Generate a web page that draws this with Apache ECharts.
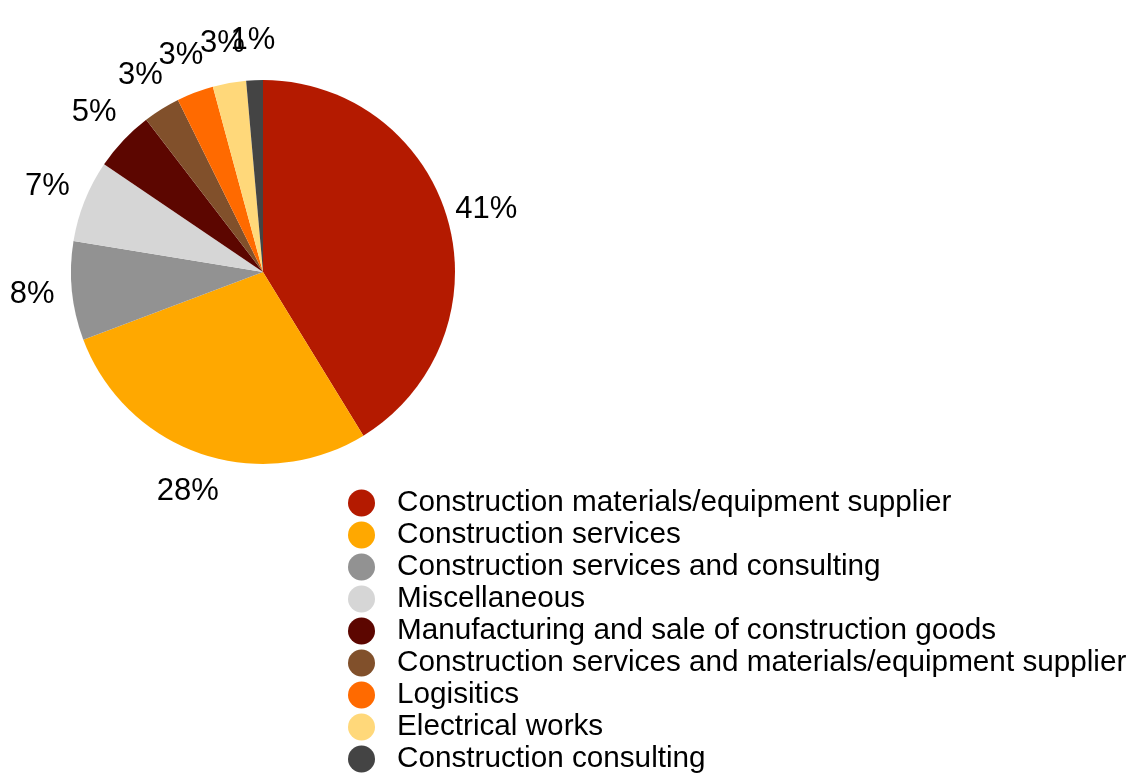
<!DOCTYPE html>
<html>
<head>
<meta charset="utf-8">
<script src="https://cdn.jsdelivr.net/npm/echarts@6/dist/echarts.min.js"></script>
<style>
  html, body { margin: 0; padding: 0; background: #fff; }
  #chart { width: 1131px; height: 773px; }
</style>
</head>
<body>
<div id="chart"></div>
<script>
const categories = [
  'Construction materials/equipment supplier',
  'Construction services',
  'Construction services and consulting',
  'Miscellaneous',
  'Manufacturing and sale of construction goods',
  'Construction services and materials/equipment supplier',
  'Logisitics',
  'Electrical works',
  'Construction consulting'
]
const shares = [41.2, 28.0, 8.3, 6.9, 5.1, 3.1, 3.1, 2.8, 1.4]
const colors = [
  '#B41A00',
  '#FFA800',
  '#929292',
  '#D6D6D6',
  '#5C0600',
  '#81502B',
  '#FF6A00',
  '#FFD87A',
  '#444444'
]

const chart = echarts.init(document.getElementById('chart'))
const font = "'Liberation Sans', Arial, Helvetica, sans-serif"

const sliceData = categories.map((name, i) => {
  return { name: name, value: shares[i], itemStyle: { color: colors[i] } }
})
// same slices, invisible, only used to place the % labels a bit outside the pie
const labelData = categories.map((name, i) => {
  return { name: name, value: shares[i], itemStyle: { color: 'rgba(0,0,0,0)' } }
})

const option = {
  animation: false,
  backgroundColor: '#fff',
  color: colors,
  legend: {
    orient: 'vertical',
    left: 343,
    top: 483,
    height: 400,
    icon: 'circle',
    itemWidth: 27,
    itemHeight: 27,
    itemGap: 2,
    selectedMode: false,
    data: categories,
    textStyle: {
      fontFamily: font,
      fontSize: 29.7,
      lineHeight: 30,
      color: '#000',
      padding: [0, 0, 0, 17]
    }
  },
  series: [
    {
      name: 'share',
      type: 'pie',
      center: [263, 272],
      radius: [0, 192],
      startAngle: 90,
      clockwise: true,
      avoidLabelOverlap: false,
      label: { show: false },
      labelLine: { show: false },
      itemStyle: { borderWidth: 0 },
      emphasis: { disabled: true },
      data: sliceData
    },
    {
      name: 'labels',
      type: 'pie',
      silent: true,
      center: [263, 272],
      radius: [0, 458],
      startAngle: 90,
      clockwise: true,
      avoidLabelOverlap: false,
      itemStyle: { borderWidth: 0 },
      labelLine: { show: false },
      labelLayout: { hideOverlap: false },
      label: {
        show: true,
        position: 'inside',
        fontFamily: font,
        fontSize: 31,
        color: '#000',
        textBorderWidth: 0,
        formatter: function(p) {
          return Math.round(p.value) + '%'
        }
      },
      emphasis: { disabled: true },
      data: labelData
    }
  ]
}
chart.setOption(option)
</script>
</body>
</html>
